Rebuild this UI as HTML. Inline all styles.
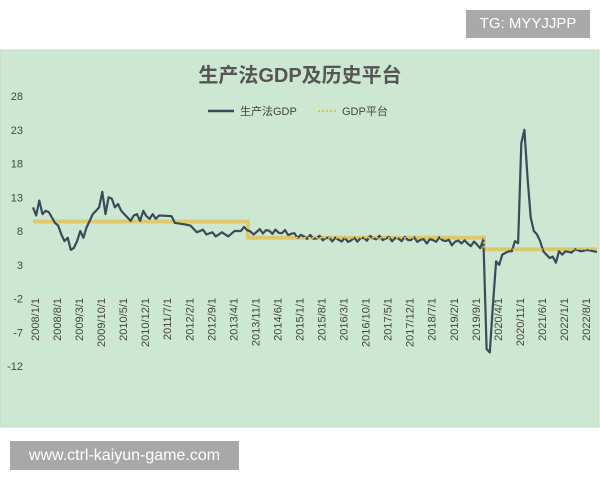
<!DOCTYPE html>
<html><head><meta charset="utf-8"><style>
body{margin:0;width:600px;height:480px;background:#fff;overflow:hidden;font-family:"Liberation Sans","Noto Sans CJK SC",sans-serif;}
.tg{position:absolute;left:466px;top:10px;width:124px;height:28px;background:#a9a9a9;color:#fff;font-size:15px;line-height:28px;text-align:center;}
.wm{position:absolute;left:10px;top:441px;width:229px;height:29px;background:#a8a8a8;color:#fff;font-size:16px;line-height:29px;text-align:center;}
</style></head><body>
<div class="tg">TG: MYYJJPP</div>
<svg id="c" width="600" height="480" style="position:absolute;left:0;top:0">
<rect x="0" y="50" width="599" height="377" fill="#cde8d2" stroke="#c0d8c4"/>
<text x="300" y="82" text-anchor="middle" font-size="20" font-weight="bold" fill="#555" font-family="Liberation Sans,Noto Sans CJK SC,sans-serif">生产法GDP及历史平台</text>
<line x1="208" y1="111" x2="234" y2="111" stroke="#3b4a5a" stroke-width="2.5"/>
<text x="240" y="115" font-size="11" fill="#444" font-family="Liberation Sans,Noto Sans CJK SC,sans-serif">生产法GDP</text>
<line x1="318" y1="111" x2="338" y2="111" stroke="#d9c35a" stroke-width="2" stroke-dasharray="2,2"/>
<text x="342" y="115" font-size="11" fill="#444" font-family="Liberation Sans,Noto Sans CJK SC,sans-serif">GDP平台</text>
<g id="ax" font-size="11" fill="#444" font-family="Liberation Sans,sans-serif"></g>
<g id="pl"></g>
</svg>
<div class="wm">www.ctrl-kaiyun-game.com</div>
<script>
var Y=function(v){return 231-(v-8)*6.75;};
var X=function(i){return 33+i*3.15;};
var ax=document.getElementById('ax'),s='';
[28,23,18,13,8,3,-2,-7,-12].forEach(function(v){s+='<text x="23" y="'+(Y(v)+4)+'" text-anchor="end">'+v+'</text>';});
for(var k=0;k<26;k++){var mi=k*7,yr=2008+Math.floor(mi/12),mo=mi%12+1;var x=35+k*22.04;
s+='<text transform="translate('+(x+4)+',298) rotate(-90)" text-anchor="end">'+yr+'/'+mo+'/1</text>';}
ax.innerHTML=s;
var K=[[0,11.5],[1,10.3],[2,12.5],[3,10.5],[4,11],[5,10.8],[6,10],[7,9.2],[8,8.8],[9,7.5],[10,6.5],[11,7],[12,5.2],[13,5.5],[14,6.5],[15,8],[16,7],[17,8.5],[18,9.5],[19,10.5],[20,11],[21,11.5],[22,13.8],[23,10.5],[24,13],[25,12.8],[26,11.5],[27,12],[28,11],[29,10.5],[30,10],[31,9.5],[32,10.3],[33,10.5],[34,9.5],[35,11],[36,10.2],[37,9.8],[38,10.5],[39,9.8],[40,10.3],[44,10.2],[45,9.2],[48,9],[50,8.8],[52,7.8],[54,8.2],[55,7.5],[57,7.8],[58,7.2],[60,7.8],[62,7.2],[64,8],[66,8],[67,8.6],[69,7.6],[72,8],[80,7.8],[85,7.2],[90,7],[95,6.8],[100,6.6],[108,7],[115,6.8],[120,6.8],[125,6.5],[130,6.8],[133,6.2],[136,6.5],[139,6],[141,6.2],[142,5.5],[143,6.8],[144,-9.5],[145,-10],[146,-3],[147,3.5],[148,3],[149,4.5],[151,5],[152,5],[153,6.5],[154,6.2],[155,21],[156,23],[157,16],[158,10],[159,8],[160,7.5],[161,6.5],[162,5],[163,4.5],[164,4],[165,4.2],[166,3.3],[167,5],[168,4.5],[169,5],[171,4.8],[172,5.3],[174,5],[176,5.2],[179,4.9]];
function interp(i){for(var j=0;j<K.length-1;j++){if(i>=K[j][0]&&i<=K[j+1][0]){var t=(i-K[j][0])/(K[j+1][0]-K[j][0]);return K[j][1]+t*(K[j+1][1]-K[j][1]);}}return K[K.length-1][1];}
var d='';for(var i=0;i<=179;i++){var v=interp(i);if(i>68&&i<143)v+=Math.sin(i*2.3)*0.35;d+=(i?'L':'M')+X(i).toFixed(1)+','+Y(v).toFixed(1);}
var p='<path d="M33,'+Y(9.4)+'H248V'+Y(7)+'H484V'+Y(5.3)+'H597" fill="none" stroke="#e0c45c" stroke-width="4" opacity="0.85"/>';
p+='<path d="'+d+'" fill="none" stroke="#3b4a5a" stroke-width="2.2" stroke-linejoin="round"/>';
p+='<path d="M248,'+Y(7)+'H484V'+Y(5.3)+'H597" fill="none" stroke="#d9c35a" stroke-width="1.5" stroke-dasharray="2,2"/>';
document.getElementById('pl').innerHTML=p;
</script>
</body></html>
